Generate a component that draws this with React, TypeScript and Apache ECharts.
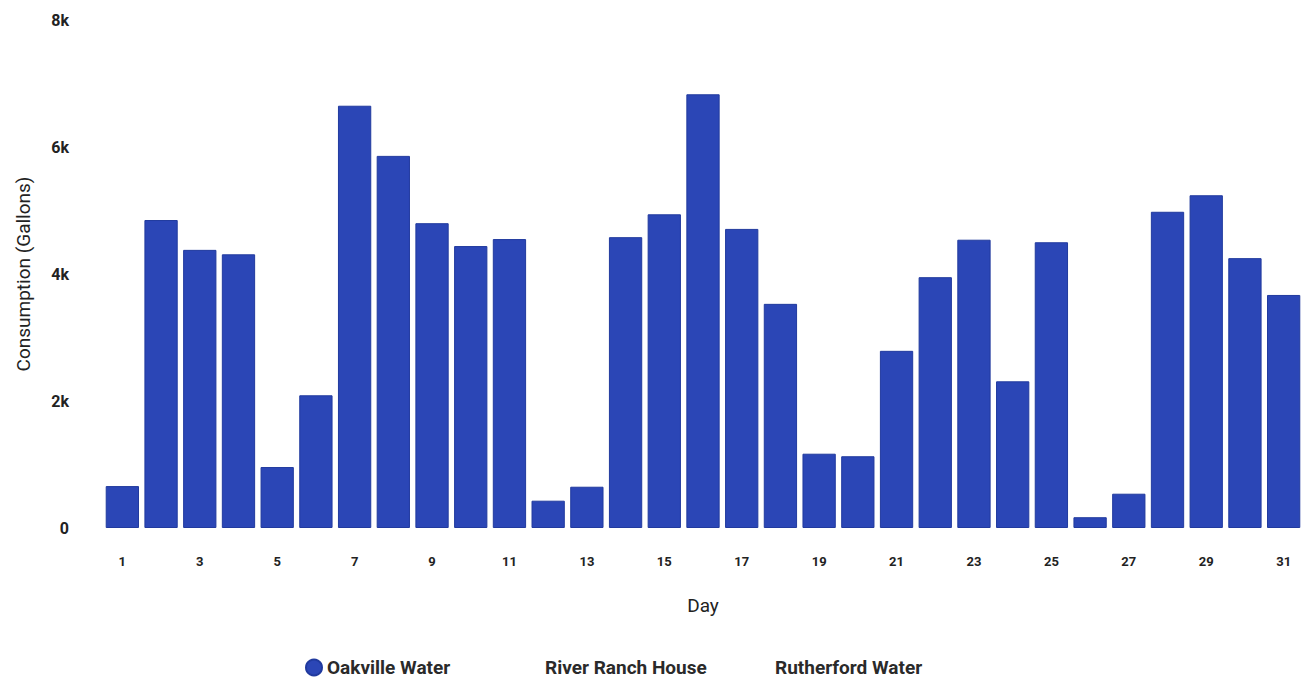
import React, { useEffect, useRef } from "react";
import * as echarts from "echarts";

const days: string[] = Array.from({ length: 31 }, (_, i) => String(i + 1));
const oakvilleWater: number[] = [
  660, 4850, 4380, 4310, 960, 2090, 6650, 5860, 4800, 4440,
  4550, 430, 650, 4580, 4940, 6830, 4710, 3530, 1170, 1130,
  2790, 3950, 4540, 2310, 4500, 170, 540, 4980, 5240, 4250, 3670,
];
const riverRanchHouse: number[] = [];
const rutherfordWater: number[] = [];
const seriesNames: string[] = ["Oakville Water", "River Ranch House", "Rutherford Water"];
const yTicks = { min: 0, max: 8000, interval: 2000 };

export default function App() {
  const ref = useRef<HTMLDivElement>(null);

  useEffect(() => {
    if (!ref.current) return;
    const chart = echarts.init(ref.current, undefined, { renderer: "svg" });
    const font = "Roboto, 'Noto Sans', sans-serif";
    const legendText = { fontSize: 19, fontWeight: "bold", color: "#2a2a2a", fontFamily: font };
    const legendLefts = [300, 519, 749];
    chart.setOption({
      animation: false,
      backgroundColor: "#ffffff",
      textStyle: { fontFamily: font },
      grid: { left: 103, right: 7, top: 20, bottom: 160, containLabel: false },
      legend: seriesNames.map((name, i) => ({
        top: 653,
        left: legendLefts[i],
        itemWidth: 16,
        itemHeight: 16,
        textStyle: legendText,
        data: [{ name, icon: i === 0 ? "circle" : "none" }],
      })),
      xAxis: {
        type: "category",
        data: days,
        name: "Day",
        nameLocation: "middle",
        nameGap: 68,
        nameTextStyle: { fontSize: 19, color: "#222", fontFamily: font },
        axisLine: { show: false },
        axisTick: { show: false },
        axisLabel: {
          interval: 1,
          margin: 27,
          fontSize: 13,
          fontWeight: "bold",
          color: "#222",
        },
      },
      yAxis: {
        type: "value",
        min: yTicks.min,
        max: yTicks.max,
        interval: yTicks.interval,
        name: "Consumption (Gallons)",
        nameLocation: "middle",
        nameGap: 70,
        nameTextStyle: { fontSize: 19, color: "#222", fontFamily: font },
        axisLine: { show: false },
        axisTick: { show: false },
        splitLine: { show: false },
        axisLabel: {
          margin: 34,
          fontSize: 16,
          fontWeight: "bold",
          color: "#222",
          formatter: (v: number) => (v === 0 ? "0" : `${v / 1000}k`),
        },
      },
      series: [
        {
          name: seriesNames[0],
          type: "bar",
          stack: "sites",
          data: oakvilleWater,
          barCategoryGap: "14%",
          itemStyle: { color: "#2b46b6", borderColor: "#213a9e", borderWidth: 1 },
        },
        {
          name: seriesNames[1],
          type: "bar",
          stack: "sites",
          data: riverRanchHouse,
          itemStyle: { color: "#5fa0e0" },
        },
        {
          name: seriesNames[2],
          type: "bar",
          stack: "sites",
          data: rutherfordWater,
          itemStyle: { color: "#7fc97f" },
        },
      ],
    });
    return () => chart.dispose();
  }, []);

  return (
    <div
      ref={ref}
      style={{ position: "fixed", left: 0, top: 0, width: 1310, height: 688 }}
    />
  );
}
